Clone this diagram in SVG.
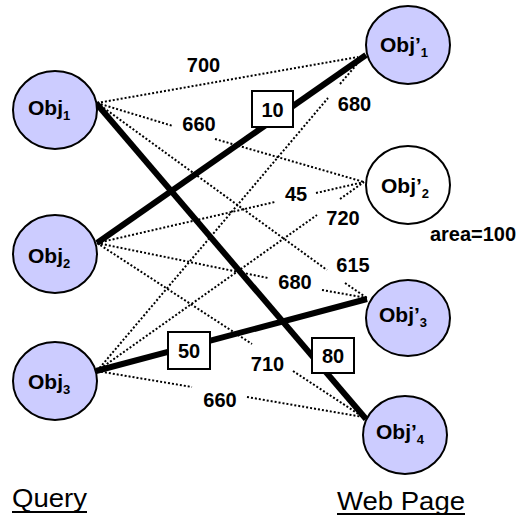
<svg xmlns="http://www.w3.org/2000/svg" width="529" height="517" viewBox="0 0 529 517">
<style>
.node{fill:#ccccff;stroke:#000;stroke-width:2}
.white{fill:#fff}
.dot{stroke:#000;stroke-width:2;stroke-dasharray:2 2;fill:none}
.thick{stroke:#000;stroke-width:6;fill:none}
.box{fill:#fff;stroke:#000;stroke-width:2}
.t{font-family:"Liberation Sans",Arial,sans-serif;font-weight:bold;font-size:20px;fill:#000}
.n{font-family:"Liberation Sans",Arial,sans-serif;font-weight:bold;font-size:21px;fill:#000}
.sub{font-size:13px}
.cap{font-family:"Liberation Sans",Arial,sans-serif;font-size:26px;fill:#000}
</style>
<rect width="529" height="517" fill="#fff"/>
<g id="connectors">
  <line class="dot" x1="97" y1="103" x2="358" y2="57"/>
  <line class="dot" x1="97" y1="103" x2="173" y2="126"/>
  <line class="dot" x1="215" y1="139" x2="364" y2="182"/>
  <line class="dot" x1="97" y1="103" x2="327" y2="270"/>
  <line class="dot" x1="345" y1="283" x2="367" y2="298"/>
  <line class="dot" x1="97" y1="243" x2="275" y2="202"/>
  <line class="dot" x1="316" y1="193" x2="364" y2="182"/>
  <line class="dot" x1="97" y1="243" x2="268" y2="278"/>
  <line class="dot" x1="322" y1="290" x2="367" y2="298"/>
  <line class="dot" x1="97" y1="243" x2="252" y2="344"/>
  <line class="dot" x1="293" y1="371" x2="363" y2="417"/>
  <line class="dot" x1="97" y1="371" x2="328" y2="98"/>
  <line class="dot" x1="340" y1="84" x2="357" y2="64"/>
  <line class="dot" x1="97" y1="371" x2="317" y2="215"/>
  <line class="dot" x1="340" y1="199" x2="364" y2="182"/>
  <line class="dot" x1="97" y1="371" x2="192" y2="387"/>
  <line class="dot" x1="247" y1="397" x2="363" y2="417"/>
  <line class="thick" x1="96" y1="103" x2="366" y2="419"/>
  <line class="thick" x1="97" y1="243" x2="366" y2="55"/>
  <line class="thick" x1="96" y1="371" x2="367" y2="299"/>
  <g id="labels">
    <text class="t" x="203.5" y="72" text-anchor="middle">700</text>
    <text class="t" x="199" y="131" text-anchor="middle">660</text>
    <text class="t" x="354.5" y="111" text-anchor="middle">680</text>
    <text class="t" x="296" y="201" text-anchor="middle">45</text>
    <text class="t" x="343" y="225" text-anchor="middle">720</text>
    <text class="t" x="353" y="272" text-anchor="middle">615</text>
    <text class="t" x="295" y="289" text-anchor="middle">680</text>
    <text class="t" x="267.5" y="371" text-anchor="middle">710</text>
    <text class="t" x="220" y="407" text-anchor="middle">660</text>
  </g>
  <g id="box10"><rect class="box" x="252" y="91" width="41" height="36"/><text class="t" x="272.5" y="117" text-anchor="middle">10</text></g>
  <g id="box50"><rect class="box" x="168" y="332" width="42" height="37"/><text class="t" x="189" y="358" text-anchor="middle">50</text></g>
  <g id="box80"><rect class="box" x="312" y="338" width="42" height="35"/><text class="t" x="333" y="363" text-anchor="middle">80</text></g>
</g>
<g id="obj1"><ellipse class="node" cx="55" cy="110" rx="42" ry="39"/><text class="n" x="28" y="115">Obj<tspan class="sub" dy="5">1</tspan></text></g>
<g id="obj2"><ellipse class="node" cx="55" cy="254" rx="42" ry="39"/><text class="n" x="28" y="263">Obj<tspan class="sub" dy="5">2</tspan></text></g>
<g id="obj3"><ellipse class="node" cx="55" cy="381" rx="42" ry="39"/><text class="n" x="28" y="389">Obj<tspan class="sub" dy="5">3</tspan></text></g>
<g id="objp1"><ellipse class="node" cx="408" cy="45" rx="42" ry="39"/><text class="n" x="380" y="52">Obj’<tspan class="sub" dy="5">1</tspan></text></g>
<g id="objp2"><ellipse class="node white" cx="408" cy="185" rx="42" ry="39"/><text class="n" x="381" y="193">Obj’<tspan class="sub" dy="5">2</tspan></text><text class="t" x="473" y="241" text-anchor="middle">area=100</text></g>
<g id="objp3"><ellipse class="node" cx="408" cy="318" rx="42" ry="38"/><text class="n" x="379" y="322">Obj’<tspan class="sub" dy="5">3</tspan></text></g>
<g id="objp4"><ellipse class="node" cx="405" cy="435" rx="42" ry="39"/><text class="n" x="376" y="439">Obj’<tspan class="sub" dy="5">4</tspan></text></g>
<g id="captions">
  <text class="cap" x="12" y="507" textLength="75" lengthAdjust="spacingAndGlyphs">Query</text>
  <line x1="12" y1="512" x2="87" y2="512" stroke="#000" stroke-width="2"/>
  <text class="cap" x="337" y="510" textLength="128" lengthAdjust="spacingAndGlyphs">Web Page</text>
  <line x1="337" y1="514" x2="465" y2="514" stroke="#000" stroke-width="2"/>
</g>
</svg>
